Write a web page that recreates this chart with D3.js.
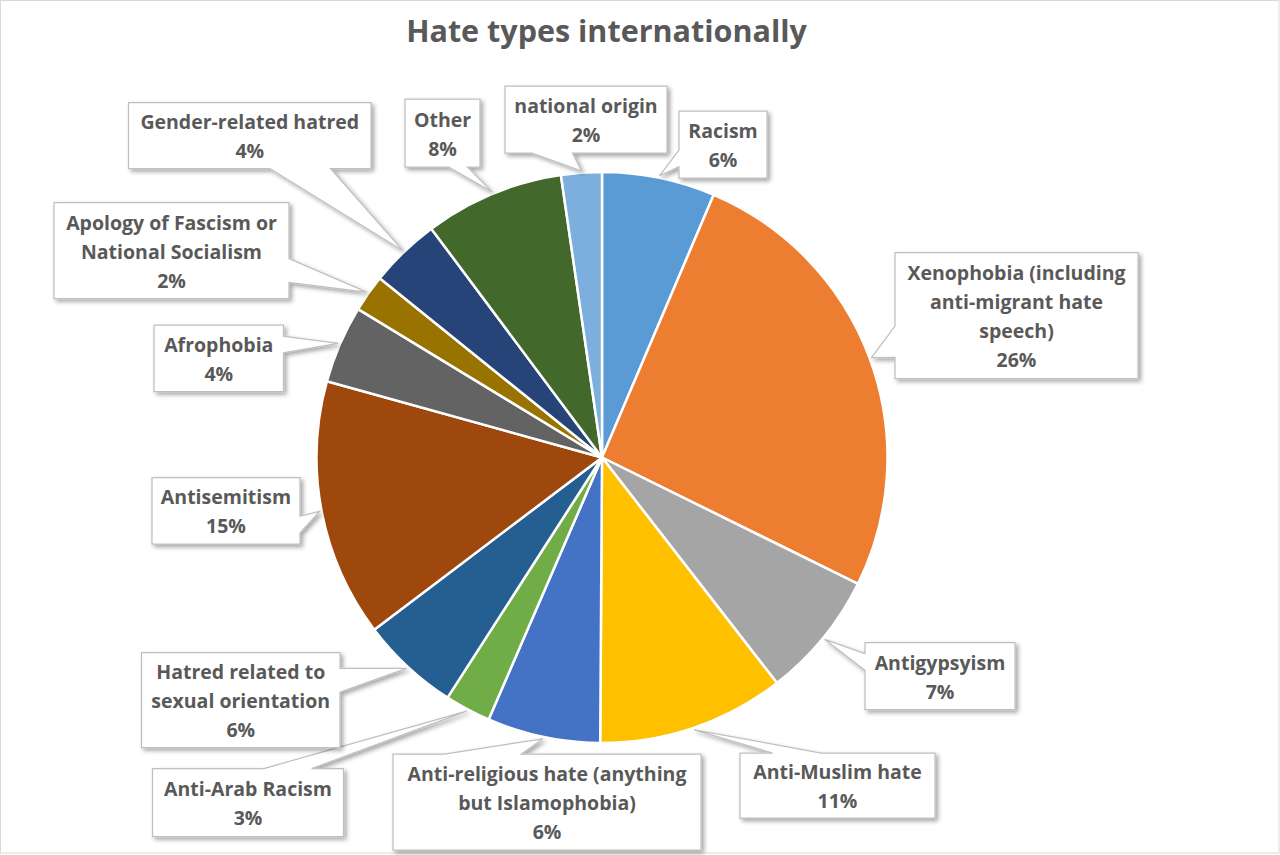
<!DOCTYPE html>
<html><head><meta charset="utf-8">
<script src="https://cdn.jsdelivr.net/npm/d3@7"></script>
<style>html,body{margin:0;padding:0;background:#fff;} svg{display:block;}</style>
</head><body>
<svg id="chart" width="1280" height="855"></svg>
<script>
// ---- data ----
const chartTitle = "Hate types internationally";
const categories = [
  "Racism",
  "Xenophobia (including anti-migrant hate speech)",
  "Antigypsyism",
  "Anti-Muslim hate",
  "Anti-religious hate (anything but Islamophobia)",
  "Anti-Arab Racism",
  "Hatred related to sexual orientation",
  "Antisemitism",
  "Afrophobia",
  "Apology of Fascism or National Socialism",
  "Gender-related hatred",
  "Other",
  "national origin"
];
const values = [6.4, 25.9, 7.2, 10.6, 6.4, 2.6, 5.6, 14.6, 4.4, 2.1, 4.0, 7.9, 2.3];
const labelLines = [
  ["Racism"],
  ["Xenophobia (including", "anti-migrant hate", "speech)"],
  ["Antigypsyism"],
  ["Anti-Muslim hate"],
  ["Anti-religious hate (anything", "but Islamophobia)"],
  ["Anti-Arab Racism"],
  ["Hatred related to", "sexual orientation"],
  ["Antisemitism"],
  ["Afrophobia"],
  ["Apology of Fascism or", "National Socialism"],
  ["Gender-related hatred"],
  ["Other"],
  ["national origin"]
];
const colors = ["#5B9BD5","#ED7D31","#A5A5A5","#FFC000","#4472C4","#70AD47",
                "#255E91","#9E480E","#636363","#997300","#264478","#43682B","#7CAFDD"];

// ---- layout (label boxes: x, y, w, h) ----
const boxes = [
  [679, 111, 88, 67],
  [895, 252.5, 243, 126],
  [865, 642.5, 150, 67],
  [740, 753, 195, 65],
  [393, 754, 308, 96],
  [152.5, 768.5, 191, 68],
  [141.5, 652.5, 198.5, 95],
  [152, 477.5, 148, 66.5],
  [154, 325, 129.5, 66.5],
  [54, 202.5, 235, 96],
  [128.5, 102.5, 242.5, 66],
  [405, 99, 75, 68],
  [505, 86, 162, 67]
];

const W = 1280, H = 855;
const cx = 602, cy = 457.5, R = 285.5;
const textColor = "#595959";
const font = "'Open Sans', 'Noto Sans', sans-serif";

const svg = d3.select("#chart");
const defs = svg.append("defs");
const f = defs.append("filter").attr("id","shadow").attr("x","-20%").attr("y","-20%").attr("width","140%").attr("height","140%");
f.append("feDropShadow").attr("dx",2.5).attr("dy",2.5).attr("stdDeviation",2)
  .attr("flood-color","#000").attr("flood-opacity",0.35);

// chart border
svg.append("rect").attr("x",0.5).attr("y",0.5).attr("width",1278.5).attr("height",852.5)
  .attr("fill","#fff").attr("stroke","#d9d9d9").attr("stroke-width",1);

// title
svg.append("text").attr("x",606.5).attr("y",42).attr("text-anchor","middle")
  .attr("font-family",font).attr("font-weight","bold").attr("font-size",30.5)
  .attr("fill",textColor).text(chartTitle);

const total = d3.sum(values);
const pie = d3.pie().sort(null).value(d => d.v).startAngle(0).endAngle(2*Math.PI);
const data = categories.map((c,i) => ({c, v: values[i], i}));
const arcs = pie(data);
const arc = d3.arc().innerRadius(0).outerRadius(R);
const tipArc = d3.arc().innerRadius(R+2).outerRadius(R+2);

const g = svg.append("g").attr("transform",`translate(${cx},${cy})`);
g.selectAll("path.slice").data(arcs).join("path").attr("class","slice")
  .attr("d", arc).attr("fill", d => colors[d.data.i])
  .attr("stroke","#fff").attr("stroke-width",2.5).attr("stroke-linejoin","round");

// wedgeRectCallout geometry
function calloutPath(b, tx, ty){
  const [x0,y0,w,h] = b, x1 = x0+w, y1 = y0+h;
  const hc = x0+w/2, vc = y0+h/2;
  const dxPos = tx-hc, dyPos = ty-vc;
  const horiz = Math.abs(dxPos*h) > Math.abs(dyPos*w);
  let side;
  if (horiz) side = dxPos < 0 ? "L" : "R"; else side = dyPos < 0 ? "T" : "B";
  const xg1 = tx > hc ? 7 : 2, xg2 = tx > hc ? 10 : 5;
  const yg1 = ty > vc ? 7 : 2, yg2 = ty > vc ? 10 : 5;
  const xa = x0 + w*xg1/12, xb = x0 + w*xg2/12;
  const ya = y0 + h*yg1/12, yb = y0 + h*yg2/12;
  const p = d3.path();
  p.moveTo(x0,y0);
  if (side==="T"){ p.lineTo(xa,y0); p.lineTo(tx,ty); p.lineTo(xb,y0); }
  p.lineTo(x1,y0);
  if (side==="R"){ p.lineTo(x1,ya); p.lineTo(tx,ty); p.lineTo(x1,yb); }
  p.lineTo(x1,y1);
  if (side==="B"){ p.lineTo(xb,y1); p.lineTo(tx,ty); p.lineTo(xa,y1); }
  p.lineTo(x0,y1);
  if (side==="L"){ p.lineTo(x0,yb); p.lineTo(tx,ty); p.lineTo(x0,ya); }
  p.closePath();
  return p.toString();
}

const lg = svg.append("g");
arcs.forEach(a => {
  const i = a.data.i;
  const b = boxes[i];
  const [tx,ty] = tipArc.centroid(a);
  const grp = lg.append("g");
  grp.append("path").attr("d", calloutPath(b, tx+cx, ty+cy))
    .attr("fill","#fff").attr("stroke","#bfbfbf").attr("stroke-width",1.25)
    .attr("filter","url(#shadow)");
  const lines = labelLines[i].concat([Math.round(a.data.v/total*100) + "%"]);
  const n = lines.length, L = 29;
  const bx = b[0]+b[2]/2, by = b[1]+b[3]/2;
  const t = grp.append("text").attr("text-anchor","middle")
    .attr("font-family",font).attr("font-weight","bold").attr("font-size",19.5)
    .attr("fill",textColor);
  lines.forEach((ln,k) => {
    t.append("tspan").attr("x",bx).attr("y", by + (k-(n-1)/2)*L + 8).text(ln);
  });
});
</script>
</body></html>
